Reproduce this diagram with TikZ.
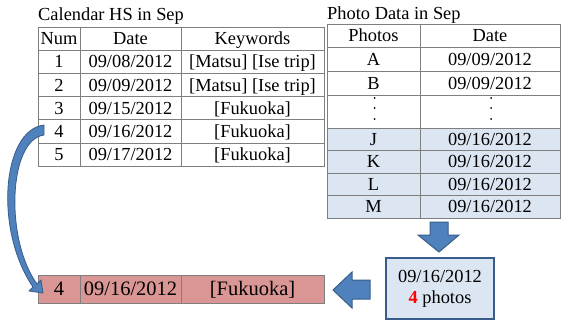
\documentclass[tikz,border=0pt]{standalone}
\usepackage{fontspec}
\setmainfont{Liberation Serif}
\usetikzlibrary{calc}
\definecolor{lblue}{HTML}{DCE6F2}
\definecolor{dblue}{HTML}{385D8A}
\definecolor{mblue}{HTML}{4F81BD}
\definecolor{rowred}{HTML}{D99694}
\definecolor{gridc}{HTML}{7F7F7F}
\newcommand\calrow[6][]{%
 \node[cell,#1,minimum width=42pt] (#2a) at (59,#3) {#4};
 \node[cell,#1,minimum width=101pt] (#2b) at (130.5,#3) {#5};
 \node[cell,#1,minimum width=143pt] (#2c) at (252.5,#3) {#6};}
\newcommand\photorow[5][]{%
 \node[cell,#1,minimum width=93pt] (#2a) at (373.5,#3) {#4};
 \node[cell,#1,minimum width=140pt] (#2b) at (490,#3) {#5};}
\begin{document}
\begin{tikzpicture}[x=1pt,y=-1pt,font=\fontsize{18.4}{21}\selectfont,
  cell/.style={draw=gridc,line width=0.8pt,inner sep=0pt,outer sep=0pt,
    minimum height=23.2pt,text height=13pt,text depth=1pt},
  title/.style={anchor=base west,inner sep=0pt},
  blockarrow/.style={fill=mblue,draw=dblue,line width=1pt,line join=miter},
  dot/.style={fill=black,circle,inner sep=0pt,minimum size=2pt}]
\useasboundingbox (0,0) rectangle (561,322);
% titles
\node[title] (t1) at (38,20) {Calendar HS in Sep};
\node[title] (t2) at (327,19) {Photo Data in Sep};
% calendar table
\calrow{L0}{38.6}{Num}{Date}{Keywords}
\calrow{L1}{61.8}{1}{09/08/2012}{[Matsu] [Ise trip]}
\calrow{L2}{85}{2}{09/09/2012}{[Matsu] [Ise trip]}
\calrow{L3}{108.2}{3}{09/15/2012}{[Fukuoka]}
\calrow{L4}{131.4}{4}{09/16/2012}{[Fukuoka]}
\calrow{L5}{154.6}{5}{09/17/2012}{[Fukuoka]}
% photo table
\photorow[minimum height=23pt]{P0}{35.5}{Photos}{Date}
\photorow[minimum height=24pt]{PA}{59}{A}{09/09/2012}
\photorow[minimum height=24pt]{PB}{83}{B}{09/09/2012}
\photorow[minimum height=33pt]{PD}{111.5}{}{}
\photorow[minimum height=22.5pt,fill=lblue]{PJ}{139.25}{J}{09/16/2012}
\photorow[minimum height=22.5pt,fill=lblue]{PK}{161.75}{K}{09/16/2012}
\photorow[minimum height=22.5pt,fill=lblue]{PL}{184.25}{L}{09/16/2012}
\photorow[minimum height=22.5pt,fill=lblue]{PM}{206.75}{M}{09/16/2012}
\foreach \yy in {98,108,119}{
  \node[dot] at (374.5,\yy) {};
  \node[dot] at (491,\yy) {};
}
% result row
\calrow[minimum height=28pt,fill=rowred,font=\fontsize{20.5}{24}\selectfont,
  text height=14.5pt]{R}{289}{4}{09/16/2012}{[Fukuoka]}
% summary box
\node[draw=dblue,line width=2pt,fill=lblue,minimum width=108pt,minimum height=61pt,
  align=center,inner sep=0pt] (S) at (440,288.5)
  {09/16/2012\\{\color{red}\bfseries 4} photos};
% down block arrow
\path[blockarrow] (430,222) -- (448,222) -- (448,235) -- (459,235) -- (439,252)
  -- (418,235) -- (430,235) -- cycle;
% left block arrow
\path[blockarrow] (370,280) -- (352,280) -- (352,272) -- (333,290) -- (352,308)
  -- (352,299) -- (370,299) -- cycle;
% curved arrow from row 4 to result row
\path[fill=mblue,draw=dblue,line width=0.8pt,line join=round]
  ($(L4a.west)+(6,-6.4)$) .. controls (2,130) and (-6,230) .. (33,287)
  -- (29,291) -- ($(Ra.west)+(5,4)$) -- (41,280) -- (37,284)
  .. controls (5,240) and (8,140) .. ($(L4a.west)+(6,3.6)$) -- cycle;
\end{tikzpicture}
\end{document}
